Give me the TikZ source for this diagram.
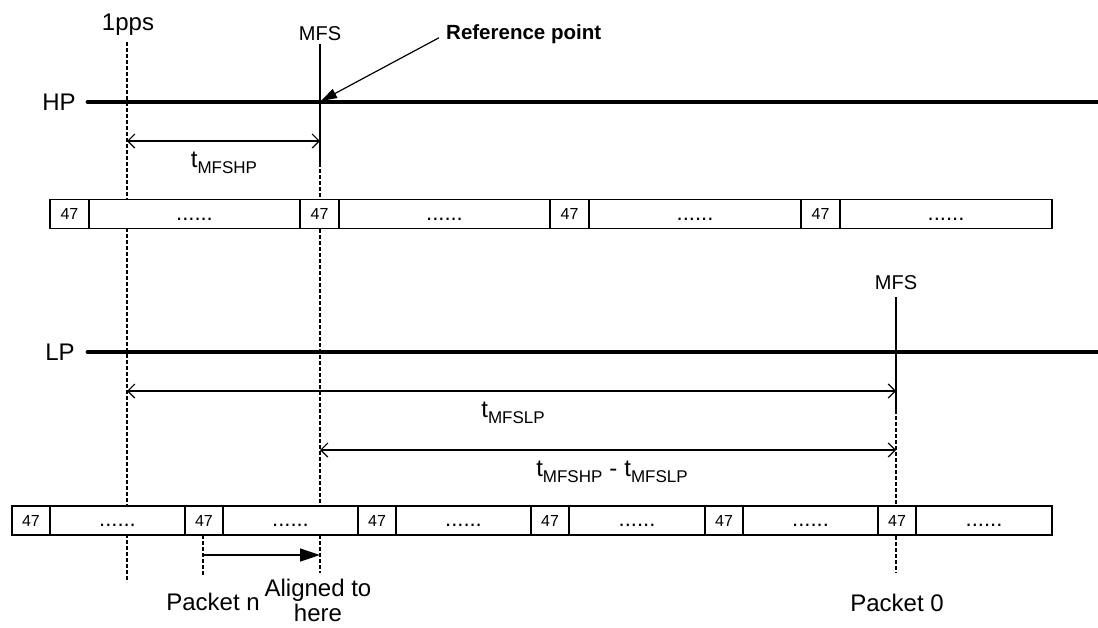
\documentclass[tikz,border=0pt]{standalone}
\usepackage{fontspec}
\setmainfont{Liberation Sans}
\usetikzlibrary{arrows.meta}
\tikzset{
  timeline/.style={line width=4.8pt, line cap=round},
  mfsline/.style={line width=2.2pt},
  guide/.style={line width=1.2pt, dash pattern=on 3.5pt off 2.5pt},
  dimarrow/.style={line width=1.2pt, {Straight Barb[length=7pt,width=14pt]}-{Straight Barb[length=7pt,width=14pt]}},
  cell/.style={draw, fill=white, line width=1.4pt, inner sep=0pt, outer sep=0pt, minimum height=29pt},
  numcell/.style={cell, font=\fontsize{16}{16}\selectfont, text height=11.5pt, text depth=0pt},
  dotcell/.style={cell, font=\fontsize{22}{22}\selectfont, text height=12pt, text depth=0pt},
  lbl/.style={font=\fontsize{24}{25}\selectfont, inner sep=0pt},
  mfslbl/.style={font=\fontsize{20}{20}\selectfont, inner sep=0pt},
}
\newcommand{\tsym}[1]{t\raisebox{-6pt}{\fontsize{17}{17}\selectfont #1}}
\begin{document}
\begin{tikzpicture}[x=1pt,y=-1pt]
\useasboundingbox (0,0) rectangle (1098,627);

% ---- coordinates
\coordinate (ppsTop) at (127,42);
\coordinate (ppsBot) at (127,582);
\coordinate (hpMfsTop) at (320,44);
\coordinate (hpMfsBot) at (320,163);
\coordinate (alignBot) at (320,573);
\coordinate (lpMfsTop) at (896,297);
\coordinate (lpMfsBot) at (896,410);
\coordinate (p0Bot) at (896,573);
\coordinate (pnTop) at (203,535);
\coordinate (pnBot) at (203,575);
\coordinate (hpL) at (88,102);
\coordinate (hpR) at (1100,102);
\coordinate (lpL) at (88,352);
\coordinate (lpR) at (1100,352);
\coordinate (refPt) at (321,101);
\coordinate (dimHPa) at (127,141);
\coordinate (dimHPb) at (320,141);
\coordinate (dimLPa) at (127,391);
\coordinate (dimLPb) at (896,391);
\coordinate (dimDa) at (320,450);
\coordinate (dimDb) at (896,450);
\coordinate (shA) at (203,555);
\coordinate (shB) at (320,555);

% ---- dashed guides
\draw[guide] (ppsTop) -- (ppsBot);
\draw[guide] (hpMfsBot) -- (alignBot);
\draw[guide] (lpMfsBot) -- (p0Bot);
\draw[guide] (pnTop) -- (pnBot);

% ---- packet row 1
\foreach \s/\e [count=\i] in {50/300, 300/550, 550/801, 801/1052}{
  \pgfmathsetmacro{\xa}{\s+19.5}
  \pgfmathsetmacro{\xb}{(\s+39+\e)/2}
  \pgfmathsetmacro{\wb}{\e-\s-39}
  \node[numcell, minimum width=39pt] (ra\i n) at (\xa,214) {47};
  \node[dotcell, minimum width=\wb pt] (ra\i d) at (\xb,214) {......};
}
% ---- packet row 2
\foreach \s/\e [count=\i] in {12/185, 185/358, 358/531, 531/705, 705/878, 878/1052}{
  \pgfmathsetmacro{\xa}{\s+19}
  \pgfmathsetmacro{\xb}{(\s+38+\e)/2}
  \pgfmathsetmacro{\wb}{\e-\s-38}
  \node[numcell, minimum width=38pt] (rb\i n) at (\xa,520.5) {47};
  \node[dotcell, minimum width=\wb pt] (rb\i d) at (\xb,520.5) {......};
}

% ---- timelines
\draw[timeline] (hpL) -- (hpR);
\draw[timeline] (lpL) -- (lpR);
\draw[mfsline] (hpMfsTop) -- (hpMfsBot);
\draw[mfsline] (lpMfsTop) -- (lpMfsBot);

% ---- labels
\node[lbl] (ppsLbl) at (128,25) {1pps};
\node[mfslbl] (mfsHPLbl) at (320,34) {MFS};
\node[mfslbl] (mfsLPLbl) at (896,283) {MFS};
\node[lbl] (hpLbl) at (59,102) {HP};
\node[lbl] (lpLbl) at (60,352) {LP};
\node[font=\bfseries\fontsize{20.5}{20.5}\selectfont, anchor=west, inner sep=0pt] (refLbl) at (446,34) {Reference point};

% ---- reference arrow
\draw[line width=1.2pt, -{Triangle[length=16pt,width=10pt]}, shorten <=8pt] (refLbl.west) -- (refPt);

% ---- dimension arrows
\draw[dimarrow] (dimHPa) -- (dimHPb);
\node[lbl, anchor=base] (tHP) at (224,167) {\tsym{MFSHP}};
\draw[dimarrow] (dimLPa) -- (dimLPb);
\node[lbl, anchor=base] (tLP) at (513,417) {\tsym{MFSLP}};
\draw[dimarrow] (dimDa) -- (dimDb);
\node[lbl, anchor=base] (tD) at (612,476) {\tsym{MFSHP}\hspace{7pt}-\hspace{7pt}\tsym{MFSLP}};

% ---- alignment arrow
\draw[line width=1.3pt, -{Triangle[length=20pt,width=13pt]}] (shA) -- (shB);

% ---- bottom labels
\node[lbl] (pnLbl) at (213,602) {Packet n};
\node[lbl, align=center] (alLbl) at (318,600.5) {Aligned to\\here};
\node[lbl] (p0Lbl) at (897,603) {Packet 0};
\end{tikzpicture}
\end{document}
